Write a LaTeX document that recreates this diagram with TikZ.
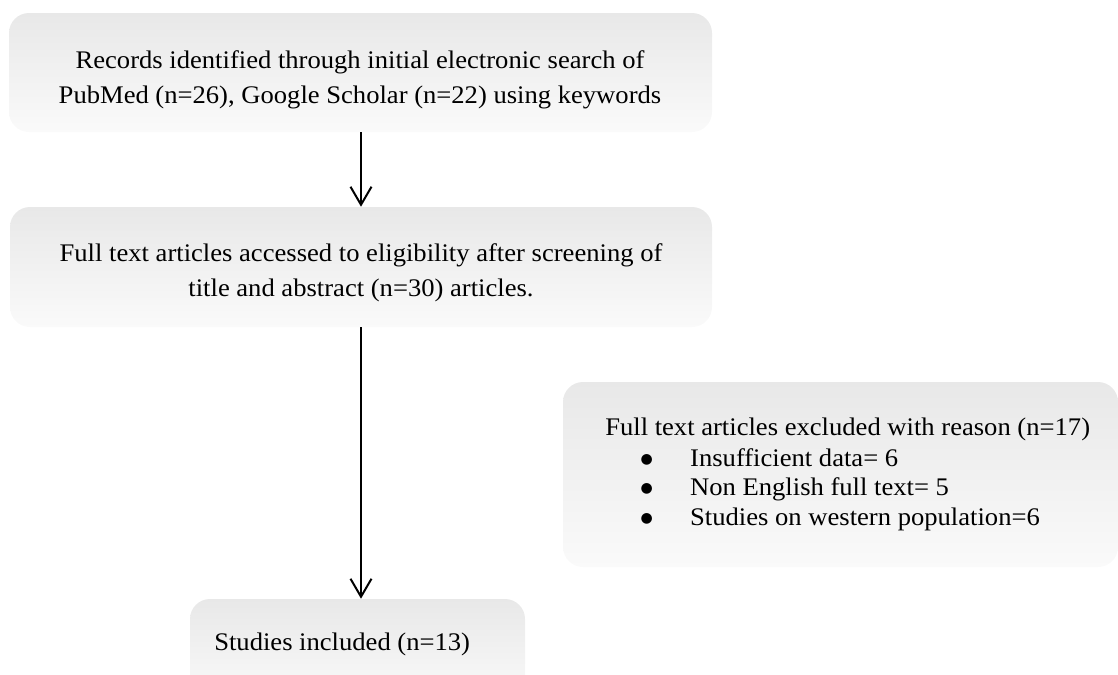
\documentclass[tikz,border=0pt]{standalone}
\usepackage{fontspec}
\setmainfont[FakeStretch=1.05]{Liberation Serif}
\newfontfamily\bulletfont{DejaVu Sans}
\usetikzlibrary{arrows.meta}
\newcommand{\exclbullet}{\hspace*{26.5pt}\makebox[37.2pt][l]{\raisebox{2.2pt}{\bulletfont\fontsize{10.5pt}{12pt}\selectfont ●}}}
\begin{document}
\begin{tikzpicture}[x=0.75pt, y=-0.75pt,
  box/.style={rounded corners=15pt, top color=black!9, bottom color=black!2, inner sep=0pt},
  boxtext/.style={inner sep=0pt, font=\fontsize{19pt}{26.25pt}\selectfont},
  flow/.style={-{Straight Barb[length=13.5pt, width=15.75pt]}, line width=1.5pt}]
  \clip (0,0) rectangle (1118,675);
  \coordinate (spine) at (361,0);

  % Records identified
  \node[box, minimum width=527.25pt, minimum height=89.25pt] (records) at (360.5,72.5) {};
  \node[boxtext, align=center] (recordsText) at (360,79.5) {
    Records identified through initial electronic search of\\
    PubMed (n=26), Google Scholar (n=22) using keywords};

  % Full text articles
  \node[box, minimum width=526.5pt, minimum height=90pt] (fulltext) at (361,267) {};
  \node[boxtext, align=center] (fulltextText) at (361,273) {
    Full text articles accessed to eligibility after screening of\\
    title and abstract (n=30) articles.};

  % Excluded
  \node[box, minimum width=416.25pt, minimum height=138.75pt] (excluded) at (840.5,474.5) {};
  \node[boxtext, align=left, anchor=west, font=\fontsize{19pt}{22.125pt}\selectfont] (excludedText) at (605,474) {
    Full text articles excluded with reason (n=17)\\[1.1pt]
    \exclbullet Insufficient data= 6\\
    \exclbullet Non English full text= 5\\
    \exclbullet Studies on western population=6};

  % Studies included
  \node[box, minimum width=251.25pt, minimum height=75.75pt] (included) at (357.5,649.5) {};
  \node[boxtext, anchor=base west] (includedText) at (214,650) {Studies included (n=13)};

  % Arrows
  \draw[flow] (records.south -| spine) -- (fulltext.north -| spine);
  \draw[flow] (fulltext.south -| spine) -- (included.north -| spine);
\end{tikzpicture}
\end{document}
